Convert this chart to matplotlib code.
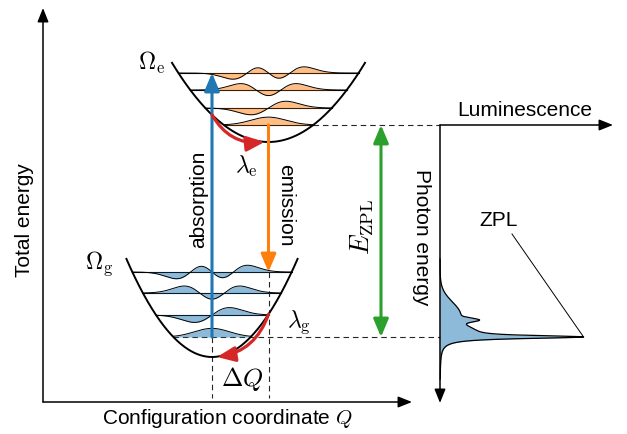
import numpy as np
import matplotlib
matplotlib.use("Agg")
import matplotlib.pyplot as plt
from numpy.polynomial.hermite import hermval
from math import factorial, pi, sqrt

plt.rcParams["font.family"] = ["Liberation Sans", "DejaVu Sans"]
plt.rcParams["mathtext.fontset"] = "cm"

# ---- potential energy surfaces (diagram units: Q to the right, E upward) ----
ground_min = (212.0, 77.0)          # (Q, E) of the ground-state minimum
ground_curv = 0.01339
ground_top = 176.0
ground_levels = [97.0, 119.0, 141.0, 162.0]

excited_min = (268.5, 292.0)        # (Q, E) of the excited-state minimum
excited_curv = 0.0085
excited_top = 372.0
excited_levels = [309.0, 326.0, 344.0, 361.0]

wave_scale = 17.5                   # oscillator length in Q units
ground_wave_amp = 11.5
excited_wave_amp = 10.5

# ---- axes of the two panels ----
origin = (43.0, 32.0)
energy_axis_top = 426.0
q_axis_end = 412.0
spec_axis_x = 440.0
spec_axis_bottom = 31.0
lum_axis_end = 613.0
ezpl_x = 381.0

# ---- luminescence line shape: Lorentzian ZPL + phonon sideband ----
zpl_height = 130.0
zpl_width = 1.8
sideband_offsets = [6.0, 22.0, 17.0]
sideband_heights = [18.0, 20.0, 18.0]
sideband_widths = [5.0, 13.0, 1.8]

C_BLUE = "#1f77b4"
C_ORANGE = "#ff7f0e"
C_GREEN = "#2ca02c"
C_RED = "#d62728"
DASH = dict(color="0.15", lw=0.8, ls=(0, (5, 3.5)))


def psi(n, x):
    c = np.zeros(n + 1)
    c[n] = 1.0
    norm = 1.0 / sqrt(2.0 ** n * factorial(n) * sqrt(pi))
    return norm * hermval(x, c) * np.exp(-x ** 2 / 2)


def arrow(ax, start, end, color, lw, hl, hw, ms=12, style="-|>", conn="arc3", z=6):
    ax.annotate("", xy=end, xytext=start,
                arrowprops=dict(arrowstyle=f"{style},head_length={hl},head_width={hw}",
                                mutation_scale=ms, lw=lw, color=color,
                                shrinkA=0, shrinkB=0, connectionstyle=conn),
                zorder=z)


def surface(ax, qmin, emin, k, etop, levels, amp, color, first_dashed):
    half = np.sqrt((etop - emin) / k)
    q = np.linspace(qmin - half, qmin + half, 500)
    ax.plot(q, emin + k * (q - qmin) ** 2, color="k", lw=1.4, zorder=4,
            solid_capstyle="butt")
    for n, e in enumerate(levels):
        h = np.sqrt((e - emin) / k)
        qq = np.linspace(qmin - h, qmin + h, 500)
        if n == 0 and first_dashed:
            ax.plot([qmin - h, spec_axis_x], [e, e], zorder=2, **DASH)
        else:
            ax.plot([qmin - h, qmin + h], [e, e], color="k", lw=0.8, zorder=2)
        w = e + amp * psi(n, (qq - qmin) / wave_scale)
        ax.fill_between(qq, e, w, color=color, alpha=0.5, lw=0, zorder=3)
        ax.plot(qq, w, color="k", lw=0.7, zorder=3.5)
    return half


fig = plt.figure(figsize=(6.27, 4.34), dpi=100)
ax = fig.add_axes([0, 0, 1, 1])
ax.set_xlim(0, 627)
ax.set_ylim(0, 434)
ax.axis("off")

qg, eg = ground_min
qe, ee = excited_min

# configuration-coordinate axes
arrow(ax, origin, (origin[0], energy_axis_top), "k", 1.1, 0.7, 0.28)
arrow(ax, origin, (q_axis_end, origin[1]), "k", 1.1, 0.7, 0.28)

surface(ax, qg, eg, ground_curv, ground_top, ground_levels,
        ground_wave_amp, C_BLUE, True)
surface(ax, qe, ee, excited_curv, excited_top, excited_levels,
        excited_wave_amp, C_ORANGE, False)

# dashed extension of the lowest excited level
he0 = np.sqrt((excited_levels[0] - ee) / excited_curv)
ax.plot([qe + he0, spec_axis_x], [excited_levels[0]] * 2, zorder=2, **DASH)

# dashed markers of the two equilibrium positions
ax.plot([qg, qg], [ground_levels[0], origin[1] + 4], zorder=1, **DASH)
ax.plot([qe, qe], [ground_levels[-1], origin[1] + 4], zorder=1, **DASH)

# vertical transitions
arrow(ax, (qg, ground_levels[0]), (qg, excited_levels[-1]), C_BLUE, 2.2, 0.9, 0.38)
arrow(ax, (qe, excited_levels[0]), (qe, ground_levels[-1]), C_ORANGE, 2.2, 0.9, 0.38)
arrow(ax, (ezpl_x, ground_levels[0]), (ezpl_x, excited_levels[0]), C_GREEN, 2.2,
      0.9, 0.38, style="<|-|>")

# lattice relaxation
e_start = ee + excited_curv * (qg - qe) ** 2
arrow(ax, (qg, e_start), (qe - 4, ee), C_RED, 2.3, 0.9, 0.38,
      conn="arc3,rad=0.32")
g_start = eg + ground_curv * (qe - qg) ** 2
arrow(ax, (qe, g_start), (qg + 5, eg), C_RED, 2.3, 0.9, 0.38,
      conn="arc3,rad=-0.3")

# luminescence spectrum panel
arrow(ax, (spec_axis_x, excited_levels[0]), (spec_axis_x, spec_axis_bottom),
      "k", 1.1, 0.7, 0.28)
arrow(ax, (spec_axis_x, excited_levels[0]), (lum_axis_end, excited_levels[0]),
      "k", 1.1, 0.7, 0.28)

e_zpl = ground_levels[0]
E = np.linspace(55, 175, 4000)
d = E - e_zpl
inten = zpl_height * zpl_width ** 2 / (d ** 2 + zpl_width ** 2)
for o, hgt, s in zip(sideband_offsets, sideband_heights, sideband_widths):
    inten = inten + hgt * np.exp(-(d - o) ** 2 / (2 * s ** 2))
ax.fill_betweenx(E, spec_axis_x, spec_axis_x + inten, color=C_BLUE, alpha=0.5,
                 lw=0, zorder=3)
ax.plot(spec_axis_x + inten, E, color="k", lw=0.9, zorder=3.5)
peak_x = spec_axis_x + inten.max()
ax.plot([512, peak_x], [200, e_zpl], color="k", lw=0.7, zorder=3)

# labels
FS = 15
MS = 17
ax.text(25, 214, "Total energy", rotation=90, ha="center", va="center", fontsize=FS)
ax.text(227, 15, "Configuration coordinate $Q$", ha="center", va="center", fontsize=FS)
ax.text(199, 235, "absorption", rotation=90, ha="center", va="center", fontsize=FS)
ax.text(286, 229, "emission", rotation=270, ha="center", va="center", fontsize=FS)
ax.text(421, 197, "Photon energy", rotation=270, ha="center", va="center", fontsize=FS)
ax.text(525, 323, "Luminescence", ha="center", va="center", fontsize=FS)
ax.text(499, 214, "ZPL", ha="center", va="center", fontsize=FS)
ax.text(151, 371, r"$\Omega_{\rm e}$", ha="center", va="center", fontsize=MS)
ax.text(99, 170, r"$\Omega_{\rm g}$", ha="center", va="center", fontsize=MS)
ax.text(246, 268, r"$\lambda_{\rm e}$", ha="center", va="center", fontsize=MS)
ax.text(299, 112, r"$\lambda_{\rm g}$", ha="center", va="center", fontsize=MS)
ax.text(242, 55, r"$\Delta Q$", ha="center", va="center", fontsize=MS + 1.5)
ax.text(362, 207, r"$E_{\rm ZPL}$", rotation=90, ha="center", va="center",
        fontsize=MS + 2)

fig.savefig("out.png", dpi=100)
